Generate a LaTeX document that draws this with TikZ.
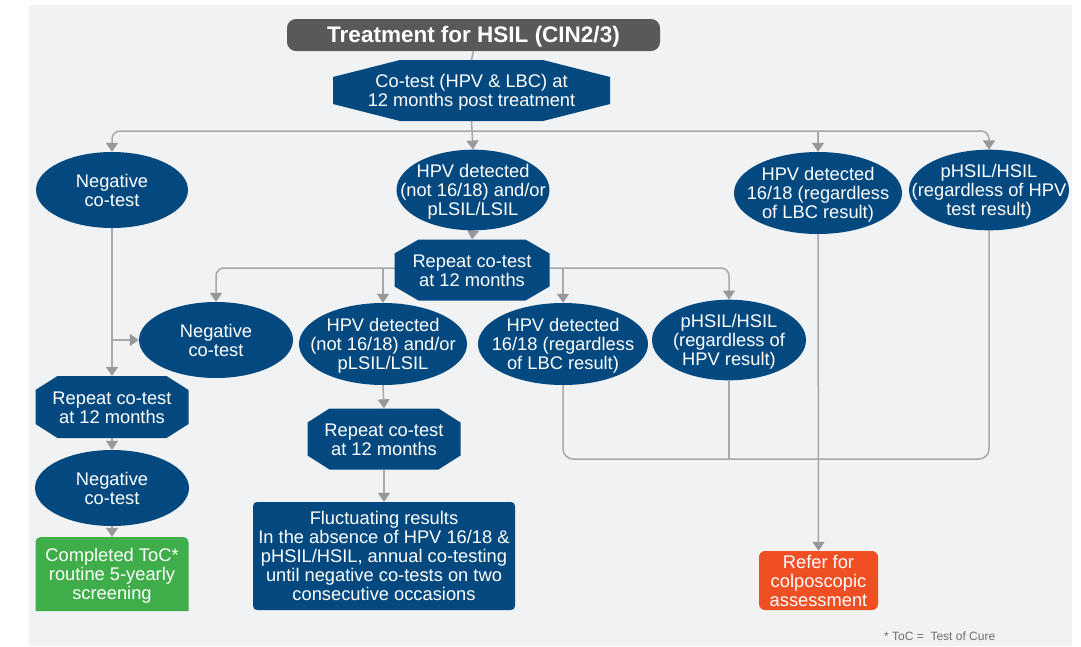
\documentclass[tikz,border=0pt]{standalone}
\usepackage{fontspec}
\setmainfont{Liberation Sans}
\usetikzlibrary{shapes.geometric,arrows.meta}
\definecolor{nhsblue}{RGB}{3,73,128}
\definecolor{titlegray}{RGB}{88,89,91}
\definecolor{linegray}{RGB}{166,168,171}
\definecolor{arrowgray}{RGB}{150,152,155}
\definecolor{tocgreen}{RGB}{63,174,74}
\definecolor{referred}{RGB}{240,78,35}
\definecolor{bggray}{RGB}{241,242,244}
\definecolor{footgray}{RGB}{109,110,113}
\pgfdeclarelayer{back}
\pgfdeclarelayer{edges}
\pgfsetlayers{back,edges,main}
\newcommand{\ml}[1]{\makebox[0pt]{\raisebox{-3pt}[\height][\depth]{\begin{tabular}{@{}c@{}}#1\end{tabular}}}}
\begin{document}
\begin{tikzpicture}[x=1pt,y=-1pt,
  txt/.style={text=white,font=\fontsize{18.3}{19}\selectfont,inner sep=0pt},
  oval/.style 2 args={txt,ellipse,fill=nhsblue,minimum width=#1pt,minimum height=#2pt},
  octo/.style n args={4}{txt,rectangle,minimum width=#1pt,minimum height=#2pt,
    path picture={\fill[nhsblue]
      ([xshift=#3pt]path picture bounding box.north west) --
      ([xshift=-#3pt]path picture bounding box.north east) --
      ([yshift=-#4pt]path picture bounding box.north east) --
      ([yshift=#4pt]path picture bounding box.south east) --
      ([xshift=-#3pt]path picture bounding box.south east) --
      ([xshift=#3pt]path picture bounding box.south west) --
      ([yshift=#4pt]path picture bounding box.south west) --
      ([yshift=-#4pt]path picture bounding box.north west) -- cycle;}},
  ln/.style={draw=linegray,line width=1.5pt},
  arr/.style={ln,-{Triangle[width=12pt,length=9pt,color=arrowgray]}}
]
\useasboundingbox (0,0) rectangle (1081,646);
\begin{pgfonlayer}{back}
  \fill[bggray] (29,5) rectangle (1072,646);
\end{pgfonlayer}

% nodes
\node[txt,fill=titlegray,rounded corners=9pt,minimum width=373pt,minimum height=32pt,
  font=\fontsize{22.5}{24}\selectfont\bfseries] (title) at (473.5,35) {\ml{Treatment for HSIL (CIN2/3)}};
\node[octo={277}{61}{67}{17}] (cotest) at (471.5,90.5) {\ml{Co-test (HPV \& LBC) at\\12 months post treatment}};

\node[oval={152}{76}] (neg1) at (112,190) {\ml{Negative\\co-test}};
\node[oval={153}{76}] (hpv1) at (473,190) {\ml{HPV detected\\(not 16/18) and/or\\pLSIL/LSIL}};
\node[oval={168}{82}] (hpv161) at (818,193) {\ml{HPV detected\\16/18 (regardless\\of LBC result)}};
\node[oval={160}{76}] (phsil1) at (989,190) {\ml{pHSIL/HSIL\\(regardless of HPV\\test result)}};

\node[octo={155}{61}{24}{14}] (repeat2) at (472,270) {\ml{Repeat co-test\\at 12 months}};

\node[oval={154}{76}] (neg2) at (216,340) {\ml{Negative\\co-test}};
\node[oval={168}{82}] (hpv2) at (383,344) {\ml{HPV detected\\(not 16/18) and/or\\pLSIL/LSIL}};
\node[oval={170}{82}] (hpv162) at (563,344) {\ml{HPV detected\\16/18 (regardless\\of LBC result)}};
\node[oval={154}{76}] (phsil2) at (729,340) {\ml{pHSIL/HSIL\\(regardless of\\HPV result)}};

\node[octo={153}{62}{22}{14}] (repeatL) at (112,407) {\ml{Repeat co-test\\at 12 months}};
\node[oval={154}{76}] (neg3) at (112,488) {\ml{Negative\\co-test}};
\node[txt,rectangle,minimum width=153pt,minimum height=74pt,
  path picture={\fill[tocgreen] (path picture bounding box.south west) --
    ([yshift=-5pt]path picture bounding box.north west) arc[start angle=180,end angle=90,radius=5pt] --
    ([xshift=-5pt]path picture bounding box.north east) arc[start angle=90,end angle=0,radius=5pt] --
    (path picture bounding box.south east) -- cycle;}] (toc) at (112,574) {\ml{Completed ToC*\\routine 5-yearly\\screening}};

\node[octo={153}{61}{22}{14}] (repeat3) at (384,439) {\ml{Repeat co-test\\at 12 months}};
\node[txt,rectangle,fill=nhsblue,rounded corners=4pt,minimum width=262pt,minimum height=108pt] (fluct) at (384,556)
  {\ml{Fluctuating results\\In the absence of HPV 16/18 \&\\pHSIL/HSIL, annual co-testing\\until negative co-tests on two\\consecutive occasions}};
\node[txt,rectangle,fill=referred,rounded corners=6pt,minimum width=119pt,minimum height=59pt] (refer) at (818.5,580.5)
  {\ml{Refer for\\colposcopic\\assessment}};

\node[anchor=west,inner sep=0pt,text=footgray,font=\fontsize{12}{13}\selectfont] (fn) at (884,636) {* ToC =\ \ Test of Cure};

\coordinate (b1) at (472,131);
\coordinate (b2) at (472,268);
\coordinate (j) at (563,459);

\begin{pgfonlayer}{edges}
  \draw[ln] (title.south) -- (cotest.north);
  \draw[arr,rounded corners=8pt] (b1) -| (neg1.north);
  \draw[arr,rounded corners=8pt] (b1) -| (phsil1.north);
  \draw[arr] (b1 -| hpv161.north) -- (hpv161.north);
  \draw[arr] (cotest.south) -- (hpv1.north);
  \draw[arr] (hpv1.south) -- (repeat2.north);
  \draw[arr,rounded corners=8pt] (b2) -| (neg2.north);
  \draw[arr,rounded corners=8pt] (b2) -| (phsil2.north);
  \draw[arr] (b2 -| hpv2.north) -- (hpv2.north);
  \draw[arr] (b2 -| hpv162.north) -- (hpv162.north);
  \draw[arr] (neg1.south) -- (repeatL.north);
  \draw[arr] (neg1.south |- neg2.west) -- (neg2.west);
  \draw[arr] (repeatL.south) -- (neg3.north);
  \draw[arr] (neg3.south) -- (toc.north);
  \draw[arr] (hpv2.south) -- (repeat3.north);
  \draw[arr] (repeat3.south) -- (fluct.north);
  \draw[ln,rounded corners=10pt] (hpv162.south) |- (phsil1.south |- j) -- (phsil1.south);
  \draw[ln] (phsil2.south) -- (phsil2.south |- j);
  \draw[arr] (hpv161.south) -- (refer.north);
\end{pgfonlayer}
\end{tikzpicture}
\end{document}
